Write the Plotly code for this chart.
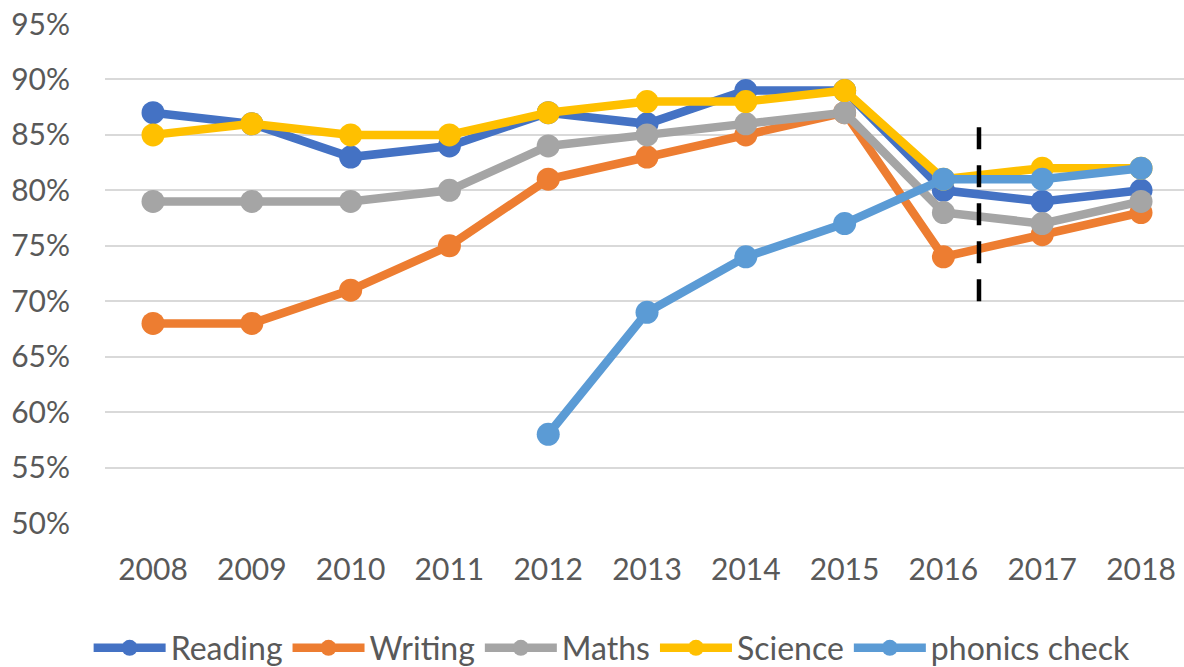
import plotly.graph_objects as go

years = [2008, 2009, 2010, 2011, 2012, 2013, 2014, 2015, 2016, 2017, 2018]
reading = [87, 86, 83, 84, 87, 86, 89, 89, 80, 79, 80]
writing = [68, 68, 71, 75, 81, 83, 85, 87, 74, 76, 78]
maths = [79, 79, 79, 80, 84, 85, 86, 87, 78, 77, 79]
science = [85, 86, 85, 85, 87, 88, 88, 89, 81, 82, 82]
phonics = [None, None, None, None, 58, 69, 74, 77, 81, 81, 82]

series = [
    ("Reading", reading, "#4472C4"),
    ("Writing", writing, "#ED7D31"),
    ("Maths", maths, "#A5A5A5"),
    ("Science", science, "#FFC000"),
    ("phonics check", phonics, "#5B9BD5"),
]

divider_x = 2016.36
divider_y = [70, 86.3]

fig = go.Figure()
for name, vals, col in series:
    fig.add_trace(go.Scatter(
        x=years, y=vals, name=name, mode="lines+markers",
        line=dict(color=col, width=8.5),
        marker=dict(color=col, size=23),
    ))

fig.add_shape(type="line", xref="x", yref="y",
              x0=divider_x, x1=divider_x, y0=divider_y[0], y1=divider_y[1],
              line=dict(color="black", width=4.5, dash="22px,16px"))

font = "Lato, Liberation Sans, Arial"
fig.update_layout(
    width=1184, height=667,
    margin=dict(l=105, r=0, t=24, b=144, autoexpand=False),
    plot_bgcolor="white", paper_bgcolor="white",
    font=dict(family=font, size=30, color="#595959"),
    showlegend=True,
    legend=dict(orientation="h", x=0.517, xanchor="center", xref="container",
                y=1 - 648 / 667, yanchor="middle", yref="container",
                font=dict(size=32, color="#595959"), itemwidth=72,
                tracegroupgap=0, bgcolor="rgba(0,0,0,0)"),
    xaxis=dict(range=[2007.514, 2018.435], tickvals=years, ticktext=[str(y) for y in years],
               showgrid=False, zeroline=False, showline=False, ticks="",
               automargin=False, ticklabelstandoff=26,
               tickfont=dict(size=30, color="#595959")),
    yaxis=dict(range=[50, 95], dtick=5, ticksuffix="%", gridcolor="#D9D9D9", gridwidth=1.8,
               zeroline=False, showline=False, ticks="", automargin=False,
               ticklabelstandoff=34,
               tickfont=dict(size=30, color="#595959")),
)

fig.write_html("out.html", config={"displayModeBar": False},
               post_script="document.body.style.margin='0';document.body.style.overflow='hidden';")
